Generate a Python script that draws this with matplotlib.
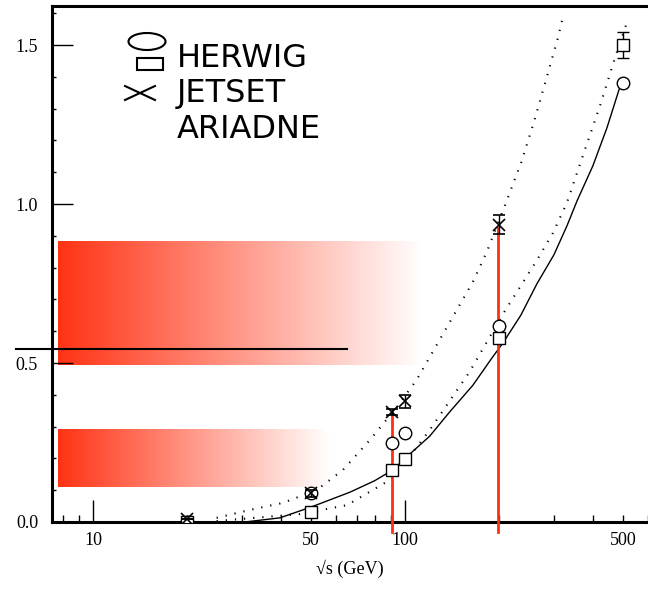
import numpy as np
import matplotlib.pyplot as plt
from matplotlib.patches import Ellipse, Rectangle
from matplotlib.lines import Line2D
from matplotlib.ticker import FixedLocator, FuncFormatter, MultipleLocator

# measured points (sqrt(s) in GeV)
herwig_s = [20, 50, 91, 100, 200, 500]
herwig_v = [0.0, 0.09, 0.25, 0.28, 0.615, 1.38]

jetset_s = [20, 50, 91, 100, 200, 500]
jetset_v = [0.0, 0.03, 0.165, 0.198, 0.58, 1.50]
jetset_err = [0.0, 0.0, 0.0, 0.0, 0.0, 0.04]

ariadne_s = [20, 50, 91, 100, 200]
ariadne_v = [0.01, 0.09, 0.345, 0.38, 0.935]
ariadne_err = [0.0, 0.01, 0.01, 0.02, 0.03]

# curves
solid_s = [30.7, 39.7, 50, 66.7, 80, 91.5, 100, 120, 139, 165, 190, 206, 235, 265, 300, 330, 356, 400, 444, 489]
solid_v = [0.0, 0.013, 0.047, 0.094, 0.13, 0.164, 0.20, 0.27, 0.346, 0.43, 0.516, 0.563, 0.65, 0.75, 0.84, 0.93, 1.01, 1.12, 1.24, 1.37]

dot1_s = [24.9, 31.8, 40.6, 52.2, 63.3, 77.2, 94.2, 109, 165, 183, 211, 236, 259, 283, 309, 321]
dot1_v = [0.013, 0.038, 0.060, 0.101, 0.164, 0.258, 0.362, 0.447, 0.755, 0.85, 1.006, 1.132, 1.258, 1.39, 1.522, 1.59]

dot2_s = [24.9, 46.0, 65.2, 91.5, 120, 161, 206, 265, 298, 330, 377, 422, 471, 518]
dot2_v = [0.003, 0.025, 0.053, 0.138, 0.289, 0.472, 0.654, 0.824, 0.909, 1.003, 1.17, 1.31, 1.46, 1.58]

# energies marked with red lines (top value of each line)
marker_s = [91, 199]
marker_top = [0.343, 0.925]

# shaded bands: (s_min, s_max, v_min, v_max)
band1 = (7.73, 114, 0.494, 0.881)
band2 = (7.73, 57.5, 0.110, 0.292)
hline_s = (5.66, 65.2)
hline_v = 0.544

fig = plt.figure(figsize=(6.48, 5.89), dpi=100)
ax = fig.add_axes([52 / 648, 67 / 589, 596 / 648, 516 / 589])
ax.set_xscale('log')
ax.set_xlim(7.39, 601)
ax.set_ylim(0, 1.623)
ax.set_autoscale_on(False)

serif = 'Liberation Serif'

# gradient bands (drawn in axes coords so the fade is even on screen)
to_ax = lambda x, y: ax.transAxes.inverted().transform(ax.transData.transform((x, y)))
t = np.linspace(0, 1, 300)
red = np.array([1.0, 0.2, 0.08])
grad = (1 - t)[:, None] * red + t[:, None] * np.ones(3)
grad = grad[None, :, :]
for b in (band1, band2):
    x0, y0 = to_ax(b[0], b[2])
    x1, y1 = to_ax(b[1], b[3])
    ax.imshow(grad, extent=(x0, x1, y0, y1), transform=ax.transAxes,
              aspect='auto', zorder=0.5, interpolation='bilinear')

ax.plot(hline_s, [hline_v, hline_v], color='black', lw=1.5, clip_on=False, zorder=3)

ax.plot(solid_s, solid_v, color='black', lw=1.0)
ax.plot(dot1_s, dot1_v, color='black', lw=1.5, ls=(0, (0.6, 3.8)))
ax.plot(dot2_s, dot2_v, color='black', lw=1.5, ls=(0, (0.6, 3.8)))

for s, top in zip(marker_s, marker_top):
    ax.plot([s, s], [-0.03, top], color='#ff3010', lw=2, clip_on=False, zorder=4)

ax.plot(herwig_s, herwig_v, 'o', mfc='white', mec='black', ms=9, mew=1.0, zorder=5)
ax.errorbar(jetset_s, jetset_v, yerr=jetset_err, fmt='s', mfc='white', mec='black',
            ecolor='black', ms=8.5, mew=1.0, elinewidth=1, capsize=4, zorder=5)
ax.errorbar(ariadne_s, ariadne_v, yerr=ariadne_err, fmt='x', color='black',
            ms=8, mew=1.2, elinewidth=1, capsize=4, zorder=6)

# axes styling
ax.spines['right'].set_visible(False)
for sp in ('left', 'bottom', 'top'):
    ax.spines[sp].set_linewidth(2.2)

ax.yaxis.set_major_locator(FixedLocator([0, 0.5, 1.0, 1.5]))
ax.yaxis.set_minor_locator(MultipleLocator(0.1))
ax.set_yticklabels(['0.0', '0.5', '1.0', '1.5'], fontfamily=serif, fontsize=13)

ax.xaxis.set_major_locator(FixedLocator([10, 100]))
minor = [m * d for d in (1, 10, 100) for m in range(2, 10) if 7.39 < m * d < 601]
ax.xaxis.set_minor_locator(FixedLocator(minor))
ax.xaxis.set_major_formatter(FuncFormatter(lambda v, p: f'{v:g}'))
ax.xaxis.set_minor_formatter(FuncFormatter(lambda v, p: f'{v:g}' if v in (50, 500) else ''))
ax.tick_params(axis='x', which='both', labelsize=13, pad=7)
ax.tick_params(axis='x', which='major', direction='in', length=16, width=1)
ax.tick_params(axis='x', which='minor', direction='in', length=5, width=1)
ax.tick_params(axis='y', which='major', direction='in', length=15, width=1, pad=10)
ax.tick_params(axis='y', which='minor', direction='in', length=3, width=1)
for lab in ax.get_xticklabels(which='both') + ax.get_yticklabels():
    lab.set_fontfamily(serif)

ax.set_xlabel('√s (GeV)', fontfamily=['Liberation Serif', 'DejaVu Serif'], fontsize=13, labelpad=8)

# hand drawn legend
fx = lambda px: px / 648
fy = lambda py: (589 - py) / 589
fig.add_artist(Ellipse((fx(147), fy(41.5)), 37 / 648, 17 / 589, transform=fig.transFigure,
                       fill=False, ec='black', lw=1.5))
fig.add_artist(Rectangle((fx(137), fy(70)), 26 / 648, 12 / 589, transform=fig.transFigure,
                         fill=False, ec='black', lw=1.5))
fig.add_artist(Line2D([fx(125), fx(155)], [fy(86), fy(100)], transform=fig.transFigure,
                      color='black', lw=1.5))
fig.add_artist(Line2D([fx(125), fx(155)], [fy(100), fy(86)], transform=fig.transFigure,
                      color='black', lw=1.5))
for txt, base in (('HERWIG', 67), ('JETSET', 102), ('ARIADNE', 138)):
    fig.text(fx(177), fy(base), txt, fontsize=23, va='baseline', ha='left',
             family='DejaVu Sans')

fig.savefig('out.png', dpi=100)
